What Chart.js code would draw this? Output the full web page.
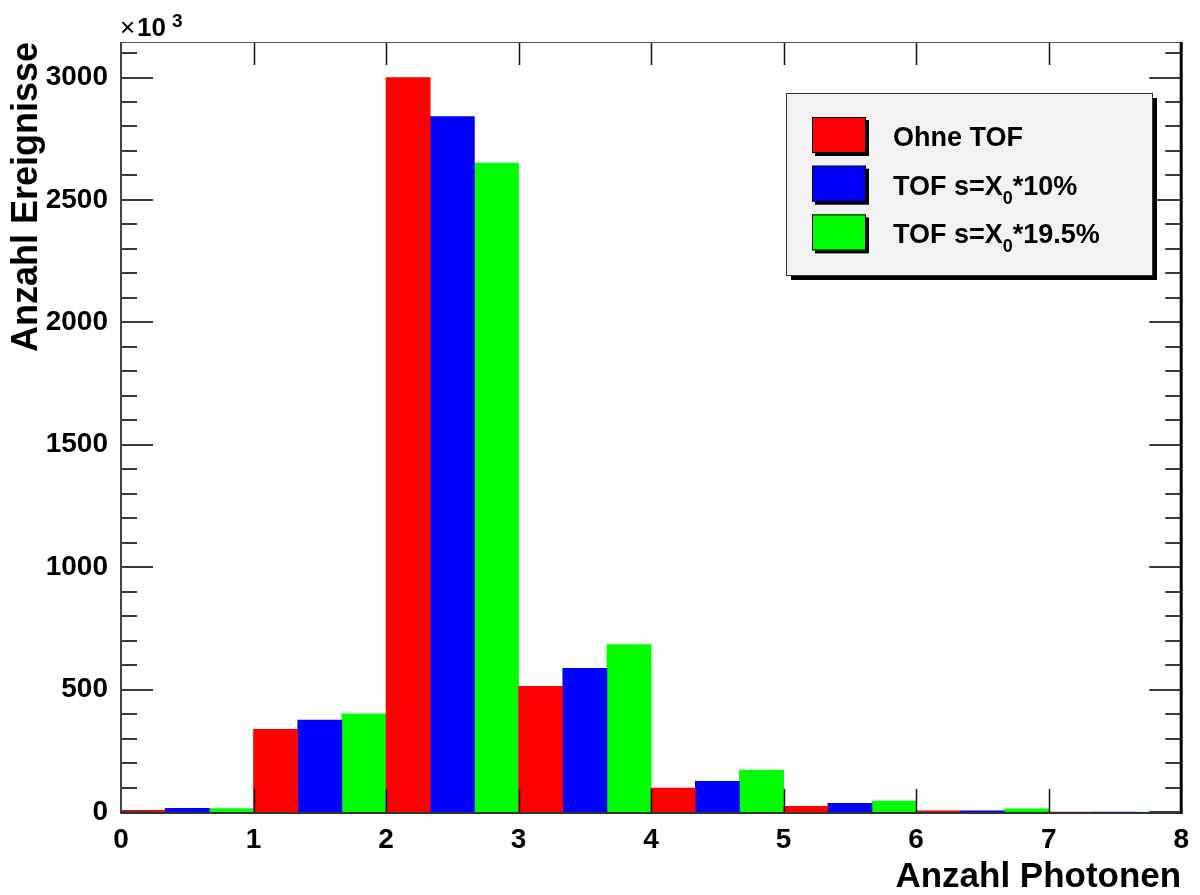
<!DOCTYPE html>
<html lang="de">
<head>
<meta charset="utf-8">
<title>Anzahl Photonen</title>
<script src="https://cdn.jsdelivr.net/npm/chart.js@4.4.1/dist/chart.umd.min.js"></script>
<style>
  html, body { margin: 0; padding: 0; background: #ffffff; }
  canvas { display: block; }
</style>
</head>
<body>
<canvas id="grafikPhotonen" width="1200" height="895"></canvas>
<script>
// =========================================================
// 1. DATEN
// =========================================================
// Ein Bin pro Photonenzahl, jede Serie belegt ein Drittel des Bins
const bins = ['0', '1', '2', '3', '4', '5', '6', '7'];
const ohneTof = [7, 338, 3000, 513, 98, 23, 5, 0];
const tof10   = [15, 375, 2840, 587, 125, 35, 5, 0];
const tof195  = [14, 401, 2650, 684, 171, 45, 13, 0];

const serienNamen  = ['Ohne TOF', 'TOF s=X\u2080*10%', 'TOF s=X\u2080*19.5%'];
const serienFarben = ['#ff0000', '#0000ff', '#00ff00'];

const xTickWerte = [0, 1, 2, 3, 4, 5, 6, 7, 8];
const yTickWerte = [0, 500, 1000, 1500, 2000, 2500, 3000];
const yMax = 3145;      // Werte in Einheiten von 10^3
const yKleinSchritt = 100;

const SCHRIFT = "'Liberation Sans', Arial, Helvetica, sans-serif";
Chart.defaults.font.family = SCHRIFT;
Chart.defaults.color = '#000000';


// =========================================================
// 2. RAHMEN UND TICKS (nach innen, wie bei ROOT)
// =========================================================
const rahmenPlugin = {
    id: 'rahmen',
    afterDatasetsDraw(chart) {
        const ctx = chart.ctx;
        const { left, right, top, bottom } = chart.chartArea;
        const ya = chart.scales.y;
        const xa = chart.scales.xAchse;

        const linie = (x1, y1, x2, y2) => {
            ctx.beginPath();
            ctx.moveTo(x1, y1);
            ctx.lineTo(x2, y2);
            ctx.stroke();
        };

        ctx.save();
        ctx.strokeStyle = '#3a3a3a';
        ctx.lineWidth = 2;

        // y-Ticks links und rechts
        for (let v = 0; v <= yMax; v += yKleinSchritt) {
            const y = Math.round(ya.getPixelForValue(v));
            const laenge = yTickWerte.includes(v) ? 32 : 16;
            linie(left, y, left + laenge, y);
            linie(right - laenge, y, right, y);
        }

        // x-Ticks unten und oben
        ctx.strokeStyle = '#111111';
        ctx.lineWidth = 1.5;
        xTickWerte.slice(1, -1).forEach(v => {
            const x = Math.round(xa.getPixelForValue(v)) + 0.5;
            linie(x, bottom, x, bottom - 23);
            linie(x, top, x, top + 23);
        });

        // Achsenlinien (untere Linie knapp unter den Balken)
        ctx.strokeStyle = '#555555';
        ctx.lineWidth = 1;
        linie(left, top + 0.5, right, top + 0.5);
        ctx.strokeStyle = '#444444';
        ctx.lineWidth = 2;
        linie(left, top, left, bottom + 2);
        ctx.strokeStyle = '#333333';
        linie(left, bottom + 1, right, bottom + 1);
        ctx.strokeStyle = '#000000';
        ctx.lineWidth = 3;
        linie(right, top, right, bottom + 2);
        ctx.restore();
    },
    afterDraw(chart) {
        const ctx = chart.ctx;
        const { left } = chart.chartArea;
        ctx.save();
        ctx.fillStyle = '#000000';
        ctx.textBaseline = 'alphabetic';
        ctx.textAlign = 'left';
        // Skalenfaktor x10^3
        ctx.font = '26px ' + SCHRIFT;
        ctx.fillText('\u00d7', left - 1, 36);
        ctx.font = 'bold 26px ' + SCHRIFT;
        ctx.fillText('10', left + 16, 36);
        ctx.font = 'bold 19px ' + SCHRIFT;
        ctx.fillText('3', left + 51, 27);
        ctx.restore();
    }
};


// =========================================================
// 3. LEGENDE MIT SCHATTEN
// =========================================================
const legendePlugin = {
    id: 'legendeBox',
    afterDraw(chart) {
        const ctx = chart.ctx;
        const box = { x: 786, y: 93, w: 366, h: 182 };
        ctx.save();

        // Schatten und Kasten
        ctx.fillStyle = '#000000';
        ctx.fillRect(box.x + 5, box.y + 5, box.w, box.h);
        ctx.fillStyle = '#f2f2f2';
        ctx.fillRect(box.x, box.y, box.w, box.h);
        ctx.strokeStyle = '#333333';
        ctx.lineWidth = 1;
        ctx.strokeRect(box.x + 0.5, box.y + 0.5, box.w, box.h);

        chart.data.datasets.forEach((ds, i) => {
            const sy = 117 + i * 48.7;
            // Farbfeld mit kleinem Schatten
            ctx.fillStyle = '#000000';
            ctx.fillRect(815, sy + 3, 54, 36);
            ctx.fillStyle = ds.backgroundColor;
            ctx.fillRect(812, sy, 54, 36);
            ctx.strokeStyle = '#000000';
            ctx.strokeRect(812.5, sy + 0.5, 53, 35);

            // Text, X\u2080 mit Index
            const basis = sy + 29;
            let x = 893;
            const teile = ds.label.split('\u2080');
            ctx.fillStyle = '#000000';
            ctx.textAlign = 'left';
            ctx.textBaseline = 'alphabetic';
            teile.forEach((teil, k) => {
                ctx.font = 'bold 27px ' + SCHRIFT;
                ctx.fillText(teil, x, basis);
                x += ctx.measureText(teil).width;
                if (k < teile.length - 1) {
                    ctx.font = 'bold 18px ' + SCHRIFT;
                    ctx.fillText('0', x, basis + 9);
                    x += ctx.measureText('0').width;
                }
            });
        });
        ctx.restore();
    }
};


// =========================================================
// 4. DIAGRAMM
// =========================================================
const ctxGrafik = document.getElementById('grafikPhotonen').getContext('2d');
new Chart(ctxGrafik, {
    type: 'bar',
    data: {
        labels: bins,
        datasets: [ohneTof, tof10, tof195].map((werte, i) => ({
            label: serienNamen[i],
            data: werte,
            backgroundColor: serienFarben[i],
            borderWidth: 0,
            barPercentage: 1,
            categoryPercentage: 1,
            xAxisID: 'x',
            yAxisID: 'y'
        }))
    },
    options: {
        responsive: false,
        animation: false,
        devicePixelRatio: 1,
        layout: { padding: { top: 42, right: 14, left: 0, bottom: 0 } },
        plugins: {
            legend: { display: false },
            tooltip: { enabled: false }
        },
        scales: {
            x: {
                type: 'category',
                display: false
            },
            xAchse: {
                type: 'linear',
                position: 'bottom',
                offset: false,
                min: 0,
                max: 8,
                afterBuildTicks: s => { s.ticks = xTickWerte.map(v => ({ value: v })); },
                afterFit: s => { s.height = 83; },
                grid: { display: false, drawTicks: false, offset: false },
                border: { display: false },
                ticks: {
                    font: { size: 28, weight: 'bold' },
                    padding: 11,
                    maxRotation: 0,
                    autoSkip: false,
                    callback: v => String(v)
                },
                title: {
                    display: true,
                    text: 'Anzahl Photonen',
                    align: 'end',
                    font: { size: 35, weight: 'bold', lineHeight: 1 },
                    padding: { top: 0, bottom: 0 }
                }
            },
            y: {
                type: 'linear',
                min: 0,
                max: yMax,
                afterBuildTicks: s => { s.ticks = yTickWerte.map(v => ({ value: v })); },
                afterFit: s => { s.width = 121; },
                grid: { display: false, drawTicks: false },
                border: { display: false },
                ticks: {
                    font: { size: 28, weight: 'bold' },
                    padding: 13,
                    callback: v => String(v)
                },
                title: {
                    display: true,
                    text: 'Anzahl Ereignisse',
                    align: 'end',
                    font: { size: 36, weight: 'bold', lineHeight: 1 },
                    padding: { top: 9, bottom: 0 }
                }
            }
        }
    },
    plugins: [rahmenPlugin, legendePlugin]
});
</script>
</body>
</html>
